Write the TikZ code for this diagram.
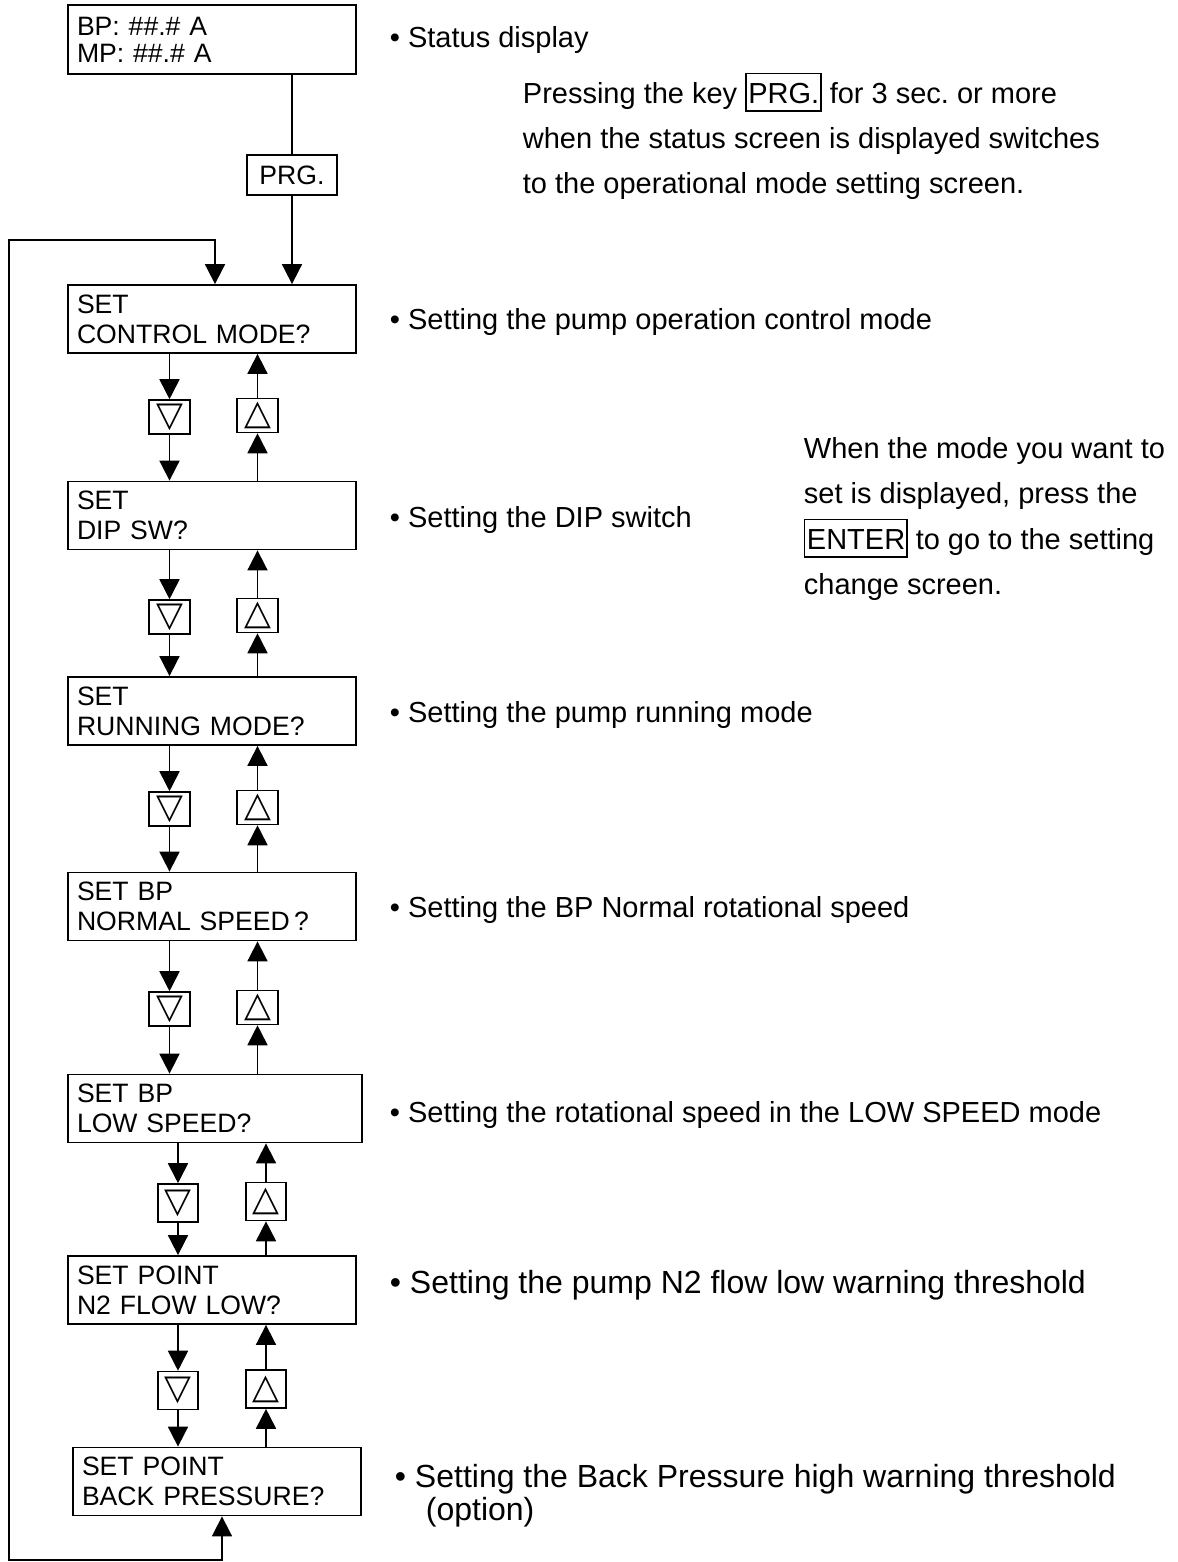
\documentclass[tikz,border=0pt]{standalone}
\usepackage{fontspec}
\setmainfont{Liberation Sans}
\newfontfamily\symfont{DejaVu Sans}
\usetikzlibrary{arrows.meta}
\frenchspacing
\newcommand\boxfont{\fontsize{26.6}{30}\selectfont}
\newcommand\txtfont{\fontsize{29}{45.5}\selectfont}
\newcommand\bigtxt{\fontsize{32}{33}\selectfont}
\newcommand\keyfr[1]{{\setlength\fboxsep{0pt}\setlength\fboxrule{1.5pt}\fbox{\rule[-0.24em]{0pt}{1.24em}\kern1.5pt#1\kern1pt}}}

\begin{document}
\begin{tikzpicture}[x=1pt, y=-1pt, line width=1.8pt,
	   >={Triangle[length=20pt,width=20pt]},
	   scr/.style={draw, text width=270pt, inner xsep=9pt, inner ysep=0pt, minimum height=68pt, align=left, font=\boxfont},
	   key/.style={draw, line width=1.6pt, minimum width=41pt, minimum height=34pt, inner sep=0pt, font=\symfont\fontsize{35}{35}\selectfont},
	   note/.style={anchor=base west, inner sep=0pt, font=\txtfont}]
	  \useasboundingbox (0,0) rectangle (1177,1562);
	  % screens
	  \node[scr, minimum height=69pt, font=\fontsize{26.6}{27}\selectfont] (st) at (212,39.5) {BP: \#\#.\# A\\MP: \#\#.\# A};
	  \node[draw, minimum width=90pt, minimum height=40pt, inner sep=0pt, font=\boxfont] (prg) at (292,175) {PRG.};
	  \node[scr] (cm) at (212,319) {SET\\CONTROL MODE?};
	  \node[scr] (dip) at (212,515.5) {SET\\DIP SW?};
	  \node[scr] (run) at (212,711) {SET\\RUNNING MODE?};
	  \node[scr] (nsp) at (212,906.5) {SET BP\\NORMAL SPEED\,?};
	  \node[scr, text width=276pt] (lsp) at (215,1108.5) {SET BP\\LOW SPEED?};
	  \node[scr] (n2) at (212,1290) {SET POINT\\N2 FLOW LOW?};
	  \node[scr] (bkp) at (217,1481.5) {SET POINT\\BACK PRESSURE?};
	  % keys
	  \foreach \i/\y in {1/417, 2/617, 3/809, 4/1009} {
	    \node[key] (dn\i) at (169.5,\y) {▽};
	    \node[key] (up\i) at (257.5,\y-1.5) {△};
	  }
	  \foreach \i/\y in {5/1203, 6/1390.5} {
	    \node[key, minimum width=40pt, minimum height=38pt] (dn\i) at (178,\y) {▽};
	    \node[key, minimum width=40pt, minimum height=38pt] (up\i) at (266,\y-1.5) {△};
	  }
	  % notes
	  \node[note] (t0) at (389,48) {• Status display};
	  \node[anchor=north west, inner sep=0pt, align=left, font=\fontsize{29}{45}\selectfont] (pr) at (522,72)
	    {Pressing the key \keyfr{PRG.} for 3 sec. or more\\when the status screen is displayed switches\\to the operational mode setting screen.};
	  \node[note] (t1) at (389,329.5) {• Setting the pump operation control mode};
	  \node[note] (t2) at (389,527.5) {• Setting the DIP switch};
	  \node[anchor=north west, inner sep=0pt, align=left, font=\txtfont] (en) at (803,436.5)
	    {When the mode you want to\\set is displayed, press the\\\keyfr{ENTER} to go to the setting\\change screen.};
	  \node[note] (t3) at (389,722.5) {• Setting the pump running mode};
	  \node[note] (t4) at (389,917.5) {• Setting the BP Normal rotational speed};
	  \node[note] (t5) at (389,1122.5) {• Setting the rotational speed in the LOW SPEED mode};
	  \node[note, font=\bigtxt] (t6) at (389,1293) {• Setting the pump N2 flow low warning threshold};
	  \node[anchor=north west, inner sep=0pt, align=left, font=\bigtxt] (t7) at (394,1463.5)
	    {• Setting the Back Pressure high warning threshold\\\hspace*{31pt}(option)};
	  % connectors
	  \draw (st.south -| prg.north) -- (prg);
	  \draw[->] (prg) -- (prg |- cm.north);
	  \foreach \a/\b/\i in {cm/dip/1, dip/run/2, run/nsp/3, nsp/lsp/4, lsp/n2/5, n2/bkp/6} {
	    \draw[->] (\a.south -| dn\i) -- (dn\i);
	    \draw[->] (dn\i) -- (dn\i |- \b.north);
	    \draw[->] (up\i |- \b.north) -- (up\i);
	    \draw[->] (up\i) -- (up\i |- \a.south);
	  }
	  % loop back
	  \coordinate (la) at (215,240);
	  \coordinate (lb) at (9,240);
	  \coordinate (lc) at (9,1560);
	  \coordinate (ld) at (222,1560);
	  \draw[<->] (la |- cm.north) -- (la) -- (lb) -- (lc) -- (ld) -- (ld |- bkp.south);
	\end{tikzpicture}
\end{document}
